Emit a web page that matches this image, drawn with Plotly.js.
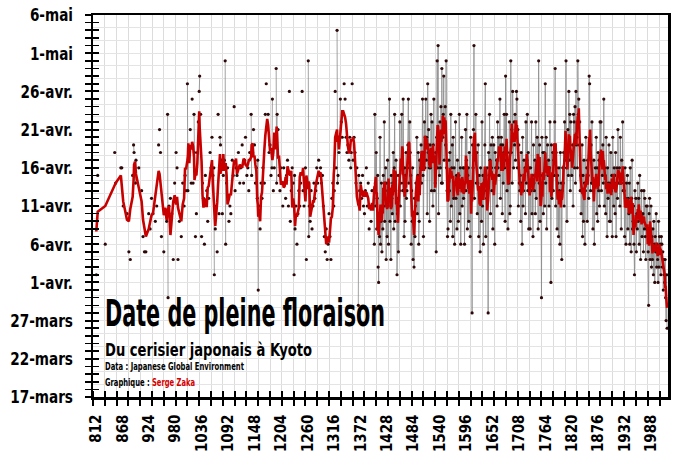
<!DOCTYPE html>
<html lang="fr">
<head>
<meta charset="utf-8">
<script src="https://cdn.plot.ly/plotly-3.0.1.min.js"></script>
<style>
  html, body { margin: 0; padding: 0; background: #fff; }
  #graph { width: 680px; height: 454px; }
</style>
</head>
<body>
<div id="graph"></div>
<script>
"use strict";

// --- DONNÉES : jour de l'année de la pleine floraison (76 = 17 mars) ---
// relevés lacunaires avant 1400
const anneesAnciennes = [
    812, 815, 831, 851, 853, 864, 866, 869, 877, 881,
    884, 889, 891, 892, 894, 895, 896, 902, 908, 911,
    914, 917, 923, 926, 929, 932, 937, 940, 944, 946,
    948, 950, 955, 958, 961, 963, 964, 966, 969, 972, 975,
    978, 981, 983, 985, 988, 992, 995, 998, 1000, 1002,
    1005, 1006, 1007, 1009, 1011, 1013, 1015, 1017, 1019, 1020, 1022,
    1024, 1026, 1028, 1030, 1031, 1033, 1035, 1037, 1039, 1041,
    1043, 1046, 1048, 1050, 1053, 1055, 1057, 1059, 1061, 1062,
    1064, 1066, 1068, 1070, 1072, 1074, 1075, 1077, 1079, 1081,
    1083, 1085, 1086, 1088, 1090, 1093, 1095, 1097, 1100, 1102,
    1104, 1106, 1108, 1110, 1113, 1116, 1118, 1121, 1124, 1126,
    1128, 1131, 1133, 1135, 1137, 1140, 1141, 1143, 1145, 1147,
    1149, 1151, 1153, 1154, 1155, 1157, 1159, 1161, 1163, 1165, 1168,
    1170, 1172, 1174, 1176, 1178, 1180, 1182, 1184, 1185, 1187,
    1189, 1191, 1193, 1194, 1195, 1197, 1199, 1201, 1203, 1205, 1207,
    1209, 1211, 1213, 1215, 1217, 1219, 1221, 1223, 1225, 1227,
    1229, 1231, 1232, 1233, 1235, 1237, 1239, 1241, 1243, 1245, 1248,
    1250, 1252, 1255, 1257, 1259, 1261, 1262, 1263, 1265, 1267, 1269,
    1271, 1273, 1275, 1277, 1279, 1281, 1283, 1285, 1287, 1289,
    1291, 1293, 1295, 1297, 1299, 1301, 1303, 1305, 1307, 1309,
    1311, 1313, 1315, 1316, 1318, 1320, 1322, 1323, 1324, 1326, 1328,
    1329, 1331, 1333, 1335, 1337, 1339, 1341, 1343, 1345, 1347,
    1349, 1351, 1352, 1354, 1356, 1358, 1360, 1362, 1364, 1367,
    1368, 1370, 1372, 1374, 1376, 1378, 1380, 1382, 1384, 1386,
    1388, 1390, 1392, 1394, 1396, 1398
];
const joursAnciens = [
    92, 105, 96, 108, 104, 106, 106, 101, 100, 95,
    94, 105, 109, 108, 106, 104, 107, 106, 103, 97,
    95, 95, 100, 98, 102, 100, 99, 101, 109, 111,
    108, 97, 95, 100, 99, 113, 89, 101, 102, 100, 94,
    104, 108, 106, 94, 99, 97, 104, 101, 105, 103,
    117, 103, 107, 108, 111, 104, 115, 104, 113, 108, 97,
    100, 108, 112, 116, 118, 113, 97, 104, 102, 96,
    105, 103, 99, 102, 108, 106, 110, 105, 106, 92,
    98, 101, 95, 113, 100, 110, 109, 107, 100, 105,
    107, 120, 96, 104, 106, 99, 101, 100, 107, 105,
    114, 103, 106, 105, 108, 104, 106, 109, 104, 107,
    110, 105, 106, 103, 108, 113, 105, 108, 111, 109,
    104, 106, 102, 107, 90, 101, 98, 104, 102, 106, 104,
    113, 117, 111, 113, 108, 109, 105, 106, 115, 103,
    106, 110, 119, 104, 113, 111, 105, 103, 106, 104, 101,
    106, 104, 102, 105, 107, 101, 116, 99, 103, 106,
    104, 92, 105, 98, 101, 96, 100, 103, 101, 104, 116,
    103, 101, 106, 94, 104, 120, 97, 101, 99, 103, 98,
    101, 104, 102, 103, 106, 104, 107, 105, 106, 104,
    105, 101, 97, 95, 98, 94, 96, 100, 97, 94,
    102, 104, 101, 103, 116, 106, 124, 104, 105, 108, 110,
    115, 112, 110, 113, 117, 115, 110, 108, 109, 107,
    110, 106, 108, 117, 107, 110, 108, 104, 106, 88,
    105, 103, 104, 102, 105, 101, 100, 103, 106, 101,
    104, 98, 101, 99, 103, 101
];

// série annuelle continue à partir de 1400 (une ligne par décennie)
const premiereAnneeContinue = 1400;
const joursContinus = [
    103, 96, 113, 104, 101, 108, 98, 102, 105, 93,
    91, 100, 97, 110, 96, 99, 104, 95, 101, 98,
    105, 101, 112, 99, 103, 106, 94, 104, 97, 107,
    101, 96, 104, 115, 99, 103, 94, 105, 102, 100,
    104, 108, 98, 106, 113, 99, 103, 107, 105, 92,
    100, 102, 95, 105, 103, 112, 101, 104, 106, 113,
    107, 103, 115, 104, 97, 106, 99, 105, 108, 102,
    103, 106, 109, 115, 104, 107, 112, 108, 105, 96,
    103, 99, 106, 94, 100, 93, 102, 97, 101, 104,
    102, 110, 100, 105, 108, 96, 99, 107, 104, 106,
    109, 104, 107, 115, 105, 97, 108, 112, 106, 110,
    115, 107, 110, 100, 117, 108, 111, 106, 99, 109,
    106, 113, 103, 112, 108, 101, 109, 115, 103, 107,
    104, 108, 95, 110, 120, 106, 122, 100, 109, 105,
    112, 106, 114, 104, 119, 104, 110, 113, 118, 107,
    111, 114, 109, 120, 106, 103, 97, 98, 104, 107,
    103, 108, 99, 113, 101, 106, 109, 97, 110, 102,
    106, 96, 104, 112, 102, 105, 98, 107, 103, 99,
    105, 113, 100, 106, 96, 104, 110, 101, 103, 106,
    102, 106, 96, 104, 111, 103, 107, 113, 98, 105,
    106, 99, 108, 103, 97, 110, 104, 102, 87, 109,
    106, 111, 122, 102, 109, 107, 113, 104, 108, 100,
    104, 109, 97, 105, 103, 95, 106, 102, 99, 112,
    101, 105, 96, 104, 103, 109, 117, 97, 104, 102,
    106, 103, 87, 108, 105, 113, 107, 100, 109, 106,
    103, 110, 98, 105, 109, 104, 96, 108, 106, 105,
    107, 101, 112, 106, 110, 105, 108, 115, 102, 109,
    110, 107, 100, 109, 104, 108, 113, 106, 99, 118,
    107, 113, 103, 108, 98, 106, 104, 112, 100, 101,
    120, 108, 111, 104, 116, 110, 106, 112, 109, 113,
    107, 110, 116, 115, 106, 111, 101, 109, 104, 103,
    105, 99, 108, 104, 96, 110, 101, 103, 107, 105,
    106, 100, 112, 104, 107, 113, 103, 108, 98, 106,
    104, 98, 106, 103, 112, 100, 105, 97, 109, 104,
    103, 107, 100, 112, 102, 106, 110, 105, 98, 120,
    104, 109, 99, 105, 103, 89, 110, 104, 108, 100,
    105, 108, 101, 117, 104, 110, 98, 106, 109, 105,
    107, 101, 106, 112, 104, 91, 109, 102, 105, 108,
    103, 107, 105, 112, 119, 101, 108, 106, 98, 105,
    104, 97, 106, 103, 96, 108, 102, 104, 94, 103,
    106, 104, 108, 101, 112, 107, 109, 120, 106, 99,
    108, 111, 105, 116, 107, 113, 103, 112, 108, 105,
    107, 109, 101, 113, 112, 106, 114, 104, 116, 109,
    110, 106, 120, 113, 115, 109, 112, 103, 105, 100,
    103, 109, 97, 105, 99, 107, 104, 96, 103, 110,
    104, 106, 99, 107, 105, 102, 118, 117, 108, 103,
    109, 104, 112, 104, 98, 103, 107, 96, 104, 106,
    104, 110, 100, 106, 99, 108, 103, 107, 101, 112,
    107, 112, 103, 108, 105, 109, 104, 115, 101, 106,
    105, 100, 110, 104, 97, 106, 102, 104, 109, 99,
    104, 99, 108, 103, 105, 97, 110, 104, 101, 106,
    105, 100, 108, 97, 104, 106, 102, 111, 104, 105,
    106, 101, 110, 104, 98, 107, 105, 112, 103, 104,
    103, 97, 106, 102, 96, 104, 101, 105, 98, 102,
    100, 104, 96, 106, 101, 95, 102, 107, 98, 99,
    101, 96, 92, 103, 99, 102, 95, 100, 98, 104,
    99, 102, 96, 105, 100, 94, 100, 103, 97, 99,
    100, 95, 103, 98, 102, 97, 94, 101, 98, 101,
    98, 95, 88, 100, 102, 94, 98, 101, 93, 97,
    94, 98, 92, 99, 96, 91, 97, 95, 100, 93,
    96, 94, 91, 99, 93, 97, 95, 96, 92, 97,
    96, 93, 95, 90, 94, 92, 91, 94, 89, 86,
    92, 85
];

// axes
const joursTicks = [76, 81, 86, 91, 96, 101, 106, 111, 116, 121, 126];
const etiquettesJours = ['17-mars', '22-mars', '27-mars', '1-avr.', '6-avr.', '11-avr.',
    '16-avr.', '21-avr.', '26-avr.', '1-mai', '6-mai'];
const anneesTicks = [812, 868, 924, 980, 1036, 1092, 1148, 1204, 1260, 1316, 1372, 1428,
    1484, 1540, 1596, 1652, 1708, 1764, 1820, 1876, 1932, 1988];

// --- PRÉPARATION ---
const anneeMin = 812;
const anneeMax = premiereAnneeContinue + joursContinus.length - 1;
const anneesToutes = [];
const joursTous = [];
for (let a = anneeMin; a <= anneeMax; a++) { anneesToutes.push(a); joursTous.push(null); }
anneesAnciennes.forEach((a, i) => { joursTous[a - anneeMin] = joursAnciens[i]; });
joursContinus.forEach((j, i) => { joursTous[premiereAnneeContinue + i - anneeMin] = j; });

const obsX = [], obsY = [];
anneesToutes.forEach((a, i) => { if (joursTous[i] !== null) { obsX.push(a); obsY.push(joursTous[i]); } });

// moyenne mobile sur 5 relevés (fenêtre centrée, réduite aux extrémités)
function moyenneMobile(ys, demi) {
    return ys.map((_, i) => {
        let s = 0, n = 0;
        for (let k = Math.max(0, i - demi); k <= Math.min(ys.length - 1, i + demi); k++) { s += ys[k]; n++; }
        return s / n;
    });
}
const moyY = moyenneMobile(obsY, 2);

const POLICE = 'DejaVu Sans Condensed, Liberation Sans Narrow, sans-serif';
const xRange = [805, 2023];
const yRange = [76, 126];

const traces = [
    { x: anneesToutes, y: joursTous, type: 'scatter', mode: 'lines', connectgaps: false,
      line: { color: '#8a8a8a', width: 0.8 }, hoverinfo: 'skip' },
    { x: obsX, y: obsY, type: 'scatter', mode: 'markers',
      marker: { size: 3.2, color: '#2e0808' } },
    { x: obsX, y: moyY, type: 'scatter', mode: 'lines',
      line: { color: '#c80000', width: 2.6 } },
    // porteurs des axes superposés (graduations intérieures, grille fine)
    { x: [], y: [], type: 'scatter', xaxis: 'x2', yaxis: 'y2', hoverinfo: 'skip' },
    { x: [], y: [], type: 'scatter', xaxis: 'x', yaxis: 'y3', hoverinfo: 'skip' }
];

const px = (v) => (v - 93) / 575;
const py = (v) => (397 - v) / 382;

const layout = {
    width: 680, height: 454,
    margin: { l: 93, r: 12, t: 15, b: 57 },
    paper_bgcolor: '#ffffff', plot_bgcolor: '#ffffff',
    showlegend: false,
    font: { family: POLICE, color: '#000000' },
    xaxis: {
        range: xRange, tickmode: 'array', tickvals: anneesTicks, ticktext: anneesTicks.map(String),
        tickangle: -90, tickfont: { size: 15, weight: 700, color: '#000' },
        ticks: '', showgrid: false, zeroline: false,
        showline: true, linecolor: '#000', linewidth: 2.5, mirror: true,
        ticklabelstandoff: 9,
        minor: { tick0: 805, dtick: 25, ticks: 'outside', ticklen: 6, tickwidth: 2, tickcolor: '#000',
                 showgrid: true, gridcolor: '#dcdcdc', gridwidth: 1 }
    },
    xaxis2: {
        overlaying: 'x', anchor: 'y', range: xRange, showticklabels: false, ticks: '',
        showgrid: false, zeroline: false, showline: false,
        minor: { tick0: 805, dtick: 25, ticks: 'inside', ticklen: 6, tickwidth: 2, tickcolor: '#000', showgrid: false }
    },
    yaxis: {
        range: yRange, tickmode: 'array', tickvals: joursTicks, ticktext: etiquettesJours,
        tickfont: { size: 18, weight: 700, color: '#000' },
        ticks: 'outside', ticklen: 6, tickwidth: 2, tickcolor: '#000',
        showgrid: true, gridcolor: '#cfcfcf', gridwidth: 1, zeroline: false,
        showline: true, linecolor: '#000', linewidth: 2.5, mirror: true,
        ticklabelstandoff: 14,
        minor: { tick0: 76, dtick: 1, ticks: 'outside', ticklen: 6, tickwidth: 1.6, tickcolor: '#000', showgrid: false }
    },
    yaxis2: {
        overlaying: 'y', anchor: 'x', side: 'left', range: yRange, showticklabels: false,
        tickmode: 'array', tickvals: joursTicks, ticks: 'inside', ticklen: 6, tickwidth: 2, tickcolor: '#000',
        showgrid: false, zeroline: false, showline: false,
        minor: { tick0: 76, dtick: 1, ticks: 'inside', ticklen: 6, tickwidth: 1.6, tickcolor: '#000', showgrid: false }
    },
    yaxis3: {
        overlaying: 'y', anchor: 'x', side: 'left', range: yRange, showticklabels: false,
        tickmode: 'linear', tick0: 76, dtick: 5 / 3, ticks: '',
        showgrid: true, gridcolor: '#e4e4e4', gridwidth: 1, zeroline: false, showline: false
    },
    annotations: [
        { xref: 'paper', yref: 'paper', x: px(103), y: py(313), xanchor: 'left', yanchor: 'middle', align: 'left',
          text: 'Date de pleine floraison', showarrow: false,
          font: { size: 37, weight: 700, color: '#000' } },
        { xref: 'paper', yref: 'paper', x: px(103), y: py(349), xanchor: 'left', yanchor: 'middle', align: 'left',
          text: 'Du cerisier japonais à Kyoto', showarrow: false,
          font: { size: 18, weight: 700, color: '#000' } },
        { xref: 'paper', yref: 'paper', x: px(103), y: py(366.5), xanchor: 'left', yanchor: 'middle', align: 'left',
          text: 'Data : Japanese Global Environment', showarrow: false,
          font: { size: 10, weight: 700, color: '#000' } },
        { xref: 'paper', yref: 'paper', x: px(103), y: py(382.5), xanchor: 'left', yanchor: 'middle', align: 'left',
          text: 'Graphique : <span style="color:#d40000">Serge Zaka</span>', showarrow: false,
          font: { size: 10, weight: 700, color: '#000' } }
    ]
};

// la police d'origine est très étroite : on resserre les glyphes après le tracé
function resserrer(noeud, facteur, largeurCible) {
    const w = noeud.getComputedTextLength();
    if (!w) return 0;
    const cible = largeurCible ? largeurCible : w * facteur;
    noeud.setAttribute('textLength', cible.toFixed(1));
    noeud.setAttribute('lengthAdjust', 'spacingAndGlyphs');
    return cible;
}

Plotly.newPlot('graph', traces, layout, { staticPlot: true, displayModeBar: false }).then(gd => {
    gd.querySelectorAll('.yaxislayer-above .ytick text').forEach(t => {
        const cible = resserrer(t, 0.84);
        // étiquettes calées à gauche du bord x = 73 px (comme sur l'original)
        const ctm = t.getScreenCTM();
        t.setAttribute('text-anchor', 'start');
        t.setAttribute('x', ((73 - cible - ctm.e) / ctm.a).toFixed(1));
    });
    const largeurs = [280, 207, 139, 90];
    gd.querySelectorAll('.annotation-text').forEach((t, i) => resserrer(t, 1, largeurs[i]));
}).catch(err => {
    console.error('Erreur de tracé :', err);
});
</script>
</body>
</html>
